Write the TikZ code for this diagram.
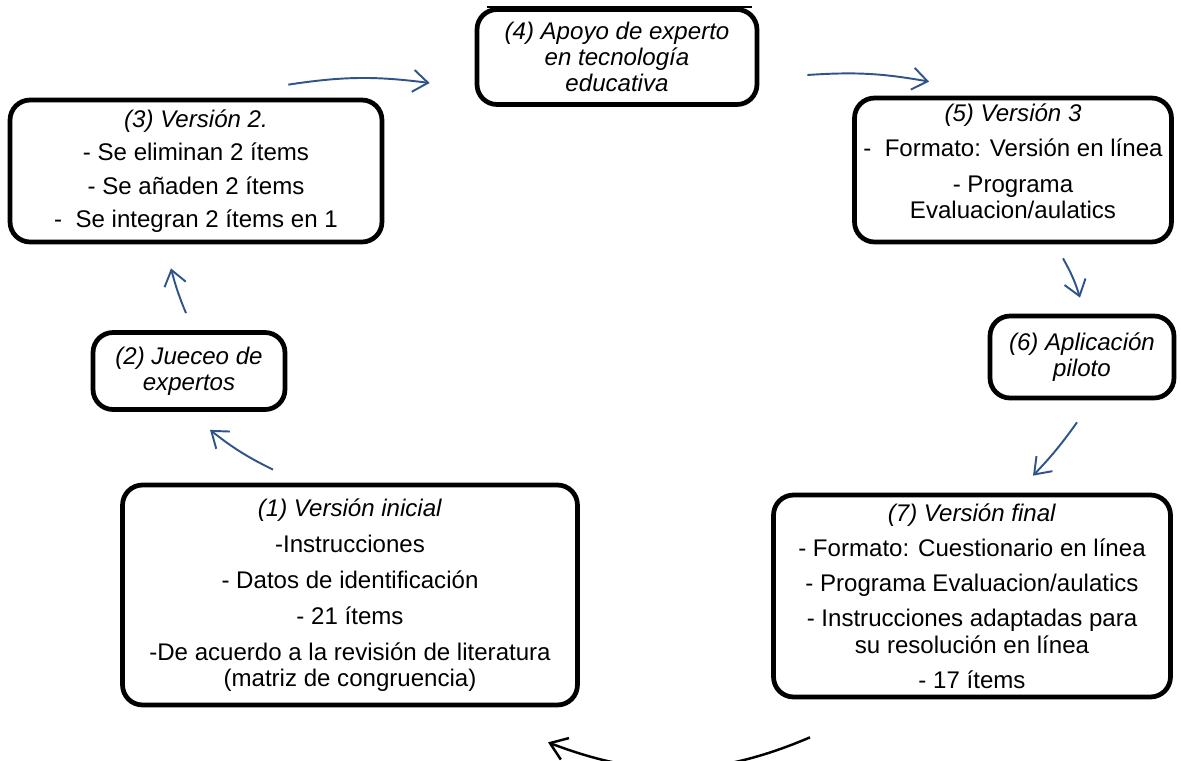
\documentclass[tikz,border=0pt]{standalone}
\usepackage{fontspec}
\setmainfont{Liberation Sans}
\usetikzlibrary{arrows.meta}
\definecolor{flowblue}{RGB}{47,84,140}

\begin{document}
\begin{tikzpicture}[
    x=0.02cm, y=-0.02cm,
    font=\fontsize{13.7}{15}\selectfont,
    stage/.style={draw, line width=2.7pt, rounded corners=0.4cm, fill=white, align=center, inner sep=0pt},
    flow/.style={-{Straight Barb[length=3mm,width=4.4mm]}, flowblue, line width=1.1pt},
    backflow/.style={-{Straight Barb[length=3.2mm,width=4.6mm]}, black, line width=1.4pt},
  ]
  \useasboundingbox (0,0) rectangle (1181,761);
  \draw[line width=0.8pt] (487,7) -- (752,7);
  \node[stage, minimum width=9.1cm, minimum height=4.4cm] (inicial) at (350,595) {\textit{(1) Versión inicial}\\[5.5pt]-Instrucciones\\[5.5pt]- Datos de identificación\\[5.5pt]- 21 ítems\\[5.5pt]-De acuerdo a la revisión de literatura\\(matriz de congruencia)};
  \node[stage, minimum width=3.84cm, minimum height=1.54cm] (jueceo) at (189,371) {\textit{(2) Jueceo de}\\\textit{expertos}};
  \node[stage, minimum width=7.44cm, minimum height=2.84cm] (version2) at (196,171) {\textit{(3) Versión 2.}\\[4pt]- Se eliminan 2 ítems\\[4pt]- Se añaden 2 ítems\\[4pt]-~ Se integran 2 ítems en 1};
  \node[stage, minimum width=5.6cm, minimum height=1.9cm] (apoyo) at (617,57) {\textit{(4) Apoyo de experto}\\\textit{en tecnología}\\\textit{educativa}};
  \node[stage, minimum width=6.34cm, minimum height=2.88cm] (version3) at (1013,170) {\textit{(5) Versión 3}\\[5pt]-~ Formato: Versión en línea\\[5pt]- Programa\\Evaluacion/aulatics\\[-5pt]\mbox{}};
  \node[stage, minimum width=3.68cm, minimum height=1.64cm] (piloto) at (1082,357) {\textit{(6) Aplicación}\\\textit{piloto}};
  \node[stage, minimum width=7.94cm, minimum height=4.04cm] (final) at (972,596) {\textit{(7) Versión final}\\[5pt]- Formato: Cuestionario en línea\\[5pt]- Programa Evaluacion/aulatics\\[5pt]- Instrucciones adaptadas para\\su resolución en línea\\[5pt]- 17 ítems};
  \draw[flow] ([shift={(-77,-13)}]inicial.north) to[bend left=6] ([shift={(21,18)}]jueceo.south);
  \draw[flow] ([shift={(-3,-17)}]jueceo.north) to[bend left=4] ([shift={(-25,24)}]version2.south);
  \draw[flow] ([shift={(-96,-13)}]version2.north east) to[bend left=8] ([shift={(-45,26)}]apoyo.west);
  \draw[flow] ([shift={(48,18)}]apoyo.east) to[bend left=7] ([shift={(77,-14)}]version3.north west);
  \draw[flow] ([shift={(50,14)}]version3.south) to[bend left=6] ([shift={(-2,-16)}]piloto.north);
  \draw[flow] ([shift={(-5,22)}]piloto.south) to[bend left=4] ([shift={(61,-17)}]final.north);
  \draw[backflow] ([shift={(-162,38)}]final.south) to[bend left=22] ([shift={(198,35)}]inicial.south);
\end{tikzpicture}
\end{document}
